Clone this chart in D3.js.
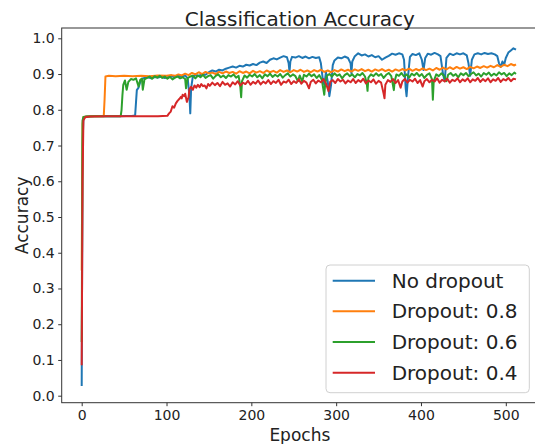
<!DOCTYPE html>
<html lang="en">
<head>
  <meta charset="utf-8" />
  <script src="https://d3js.org/d3.v7.min.js"></script>
  <style>
    body { margin: 0; background: #fff; }
    text { font-family: "DejaVu Sans", sans-serif; fill: #222; }
  </style>
</head>
<body>
  <script>
    // series: [epoch, accuracy]
    var noDropout = [
      [0, .027], [1, .70], [2, .775], [5, .781], [15, .782], [30, .782], [45, .782], [60, .783], [63, .784],
      [64, .82], [65, .855], [67, .862], [69, .878], [71, .887], [74, .889], [78, .891], [82, .888], [86, .892],
      [90, .890], [94, .893], [98, .889], [102, .892], [106, .894], [110, .891], [114, .895], [118, .893],
      [122, .896], [125, .887], [127, .84], [128, .79], [129, .86], [131, .893], [134, .897], [138, .895],
      [142, .90], [146, .898], [150, .905], [154, .910], [158, .907], [162, .912], [166, .910], [170, .915],
      [174, .918], [178, .921], [182, .918], [186, .923], [190, .921], [194, .926], [198, .924], [202, .928],
      [206, .925], [210, .932], [214, .935], [218, .931], [222, .940], [226, .944], [230, .941], [234, .946],
      [238, .950], [242, .947], [244, .93], [245, .906], [246, .935], [248, .948], [252, .946], [256, .950],
      [260, .945], [264, .949], [268, .944], [272, .948], [276, .945], [280, .947], [282, .93], [284, .89],
      [286, .87], [288, .905], [290, .88], [292, .838], [294, .87], [296, .925], [298, .938], [302, .946],
      [306, .944], [310, .949], [314, .945], [317, .93], [318, .902], [319, .935], [322, .950], [326, .958],
      [330, .952], [334, .955], [338, .949], [342, .953], [346, .947], [350, .950], [354, .940], [358, .946],
      [362, .951], [366, .957], [370, .954], [374, .958], [378, .955], [380, .94], [382, .86], [383, .838],
      [385, .90], [387, .948], [390, .956], [394, .953], [398, .958], [401, .94], [403, .911], [405, .945],
      [408, .957], [412, .954], [416, .959], [420, .955], [423, .95], [426, .90], [428, .88], [430, .945],
      [434, .957], [438, .953], [442, .958], [446, .955], [450, .958], [454, .952], [456, .93], [458, .895],
      [460, .94], [463, .955], [467, .958], [471, .955], [475, .959], [479, .956], [483, .958], [487, .955],
      [490, .95], [492, .93], [494, .92], [496, .935], [498, .925], [500, .945], [503, .96], [506, .966],
      [509, .972], [512, .968]
    ];

    var dropout08 = [
      [0, .35], [1, .76], [2, .78], [6, .781], [15, .782], [26, .782], [27, .83], [28, .893], [32, .895],
      [40, .894], [50, .895], [60, .894], [70, .895], [80, .894], [90, .896], [100, .895], [106, .897],
      [110, .895], [114, .899], [118, .896], [122, .901], [126, .897], [130, .903], [134, .899], [138, .905],
      [142, .900], [146, .906], [150, .902], [154, .904], [158, .900], [162, .906], [166, .902], [170, .907],
      [174, .903], [178, .906], [182, .901], [186, .908], [190, .903], [194, .907], [198, .902], [202, .909],
      [206, .904], [210, .908], [214, .903], [218, .910], [222, .905], [226, .909], [230, .904], [234, .911],
      [238, .906], [242, .910], [246, .905], [250, .911], [254, .907], [258, .912], [262, .906], [266, .910],
      [270, .905], [274, .911], [278, .907], [282, .912], [286, .906], [290, .910], [294, .905], [298, .911],
      [302, .907], [306, .913], [310, .908], [314, .912], [318, .907], [322, .913], [326, .909], [330, .914],
      [334, .908], [338, .912], [342, .907], [346, .913], [350, .909], [354, .914], [358, .908], [362, .912],
      [366, .907], [370, .913], [374, .909], [378, .914], [382, .910], [386, .915], [390, .909], [394, .914],
      [398, .910], [402, .916], [406, .911], [410, .915], [414, .910], [418, .917], [422, .912], [426, .918],
      [430, .913], [434, .919], [438, .914], [442, .920], [446, .915], [450, .919], [454, .914], [458, .920],
      [462, .916], [466, .921], [470, .917], [474, .922], [478, .918], [482, .923], [486, .919], [490, .925],
      [494, .920], [498, .926], [502, .922], [506, .928], [510, .924], [512, .927]
    ];

    var dropout06 = [
      [0, .15], [1, .77], [2, .78], [6, .781], [15, .782], [30, .782], [46, .782], [47, .80], [48, .84],
      [49, .87], [51, .882], [53, .856], [55, .878], [58, .886], [61, .884], [64, .888], [67, .865], [69, .884],
      [71, .887], [72, .856], [74, .885], [77, .889], [80, .893], [83, .887], [86, .894], [89, .890], [92, .895],
      [95, .889], [98, .893], [101, .887], [104, .892], [107, .885], [110, .890], [113, .893], [116, .888],
      [119, .891], [122, .886], [123, .86], [125, .889], [128, .893], [131, .895], [134, .888], [137, .896],
      [140, .891], [143, .898], [146, .889], [149, .894], [152, .897], [155, .887], [158, .895], [161, .899],
      [164, .891], [167, .896], [170, .889], [173, .897], [176, .893], [179, .899], [182, .890], [185, .895],
      [187, .865], [188, .835], [189, .88], [192, .896], [195, .890], [198, .898], [201, .893], [204, .900],
      [207, .891], [210, .897], [213, .888], [216, .899], [219, .894], [222, .901], [225, .892], [228, .898],
      [231, .893], [234, .900], [237, .890], [240, .897], [243, .902], [246, .893], [249, .899], [252, .894],
      [255, .88], [257, .896], [260, .879], [262, .898], [265, .893], [268, .901], [271, .894], [274, .899],
      [277, .889], [280, .897], [283, .885], [286, .842], [287, .87], [289, .895], [292, .900], [295, .893],
      [298, .902], [301, .895], [304, .899], [307, .888], [310, .897], [313, .902], [316, .894], [319, .899],
      [322, .891], [325, .900], [328, .896], [331, .903], [334, .893], [336, .875], [337, .853], [338, .89],
      [341, .899], [344, .894], [347, .902], [350, .895], [353, .900], [356, .889], [359, .898], [362, .903],
      [365, .894], [368, .855], [369, .88], [371, .899], [374, .895], [377, .903], [380, .893], [383, .899],
      [386, .890], [389, .901], [392, .896], [395, .903], [398, .894], [401, .900], [404, .889], [407, .898],
      [410, .902], [413, .885], [414, .828], [415, .88], [418, .899], [421, .894], [424, .902], [427, .895],
      [430, .88], [432, .898], [435, .903], [438, .895], [441, .900], [444, .891], [447, .902], [450, .897],
      [453, .903], [456, .894], [459, .900], [462, .905], [465, .896], [468, .901], [471, .893], [474, .903],
      [477, .898], [480, .904], [483, .895], [486, .901], [489, .896], [492, .905], [495, .899], [498, .903],
      [501, .894], [504, .902], [507, .897], [510, .904], [512, .900]
    ];

    var dropout04 = [
      [0, .085], [1, .60], [2, .77], [4, .779], [10, .781], [30, .782], [60, .782], [90, .782], [101, .783],
      [103, .79], [105, .795], [107, .81], [109, .806], [111, .818], [113, .825], [115, .83], [117, .836],
      [118, .832], [119, .842], [121, .838], [122, .845], [124, .822], [126, .835], [127, .858], [129, .864],
      [131, .856], [133, .868], [135, .862], [137, .870], [139, .863], [141, .872], [143, .866], [145, .868],
      [147, .86], [149, .872], [151, .867], [154, .876], [157, .869], [160, .875], [163, .866], [166, .878],
      [169, .870], [172, .874], [175, .865], [178, .877], [181, .871], [184, .880], [187, .868], [190, .876],
      [193, .872], [196, .881], [199, .870], [202, .878], [205, .873], [208, .882], [211, .871], [214, .879],
      [217, .874], [220, .883], [223, .872], [226, .880], [229, .875], [232, .884], [235, .870], [238, .879],
      [241, .876], [244, .884], [247, .872], [250, .880], [253, .875], [256, .885], [259, .873], [262, .881],
      [265, .876], [268, .860], [270, .878], [273, .884], [276, .874], [279, .882], [282, .877], [285, .886],
      [288, .873], [291, .852], [293, .878], [296, .883], [299, .875], [302, .886], [305, .879], [308, .884],
      [311, .874], [314, .882], [317, .877], [320, .886], [323, .875], [326, .883], [329, .878], [332, .887],
      [335, .874], [338, .882], [341, .877], [344, .885], [347, .873], [350, .881], [353, .876], [356, .845],
      [357, .832], [358, .87], [361, .883], [364, .878], [367, .886], [370, .875], [373, .883], [376, .862],
      [378, .879], [381, .886], [384, .876], [387, .884], [390, .879], [393, .887], [396, .875], [399, .883],
      [402, .865], [404, .880], [407, .886], [410, .877], [413, .884], [416, .879], [419, .888], [422, .876],
      [425, .884], [428, .879], [431, .887], [434, .876], [437, .884], [440, .880], [443, .888], [446, .877],
      [449, .885], [452, .880], [455, .888], [458, .877], [461, .885], [464, .881], [467, .889], [470, .878],
      [473, .886], [476, .880], [479, .888], [482, .877], [485, .885], [488, .881], [491, .889], [494, .878],
      [497, .886], [500, .882], [503, .889], [506, .880], [509, .887], [512, .885]
    ];

    var seriesNames = ["No dropout", "Dropout: 0.8", "Dropout: 0.6", "Dropout: 0.4"];
    var seriesData = [noDropout, dropout08, dropout06, dropout04];
    var colors = ["#1f77b4", "#ff7f0e", "#2ca02c", "#d62728"];
    var xTicks = [0, 100, 200, 300, 400, 500];
    var yTicks = [0, 0.1, 0.2, 0.3, 0.4, 0.5, 0.6, 0.7, 0.8, 0.9, 1.0];

    var width = 535, height = 444;
    var svg = d3.select("body").append("svg")
      .attr("width", width)
      .attr("height", height);

    // axes box (runs a little past the right edge, like the original)
    var boxLeft = 61.7, boxRight = 538, boxTop = 28, boxBottom = 402.7;

    var x = d3.scaleLinear().domain([0, 500]).range([81.7, 505.8]);
    var y = d3.scaleLinear().domain([0, 1]).range([395.7, 38.3]);

    svg.append("clipPath").attr("id", "plotClip")
      .append("rect")
      .attr("x", boxLeft).attr("y", boxTop)
      .attr("width", boxRight - boxLeft).attr("height", boxBottom - boxTop);

    var line = d3.line()
      .x(function (d) { return x(d[0]); })
      .y(function (d) { return y(d[1]); });

    var linesG = svg.append("g").attr("clip-path", "url(#plotClip)");
    seriesData.forEach(function (s, i) {
      linesG.append("path")
        .datum(s)
        .attr("d", line)
        .attr("fill", "none")
        .attr("stroke", colors[i])
        .attr("stroke-width", 2)
        .attr("stroke-linejoin", "round");
    });

    // spines
    svg.append("rect")
      .attr("x", boxLeft).attr("y", boxTop)
      .attr("width", boxRight - boxLeft).attr("height", boxBottom - boxTop)
      .attr("fill", "none")
      .attr("stroke", "#333")
      .attr("stroke-width", 1);

    var xAxis = svg.append("g")
      .attr("transform", "translate(0," + boxBottom + ")")
      .call(d3.axisBottom(x).tickValues(xTicks).tickSize(3.5).tickPadding(3.5).tickFormat(d3.format("d")));
    var yAxis = svg.append("g")
      .attr("transform", "translate(" + boxLeft + ",0)")
      .call(d3.axisLeft(y).tickValues(yTicks).tickSize(3.5).tickPadding(3.5).tickFormat(d3.format(".1f")));

    [xAxis, yAxis].forEach(function (g) {
      g.select(".domain").remove();
      g.attr("font-size", 14).attr("font-family", "DejaVu Sans");
      g.selectAll(".tick line").attr("stroke", "#333");
      g.selectAll(".tick text").style("fill", "#222");
    });

    var midX = (boxLeft + boxRight) / 2;
    svg.append("text")
      .attr("x", midX).attr("y", 26)
      .attr("text-anchor", "middle")
      .attr("font-size", 20)
      .text("Classification Accuracy");

    svg.append("text")
      .attr("x", midX).attr("y", 440.5)
      .attr("text-anchor", "middle")
      .attr("font-size", 17)
      .text("Epochs");

    svg.append("text")
      .attr("transform", "translate(28," + ((boxTop + boxBottom) / 2) + ") rotate(-90)")
      .attr("text-anchor", "middle")
      .attr("font-size", 17)
      .text("Accuracy");

    // legend
    var legend = svg.append("g");
    legend.append("rect")
      .attr("x", 326).attr("y", 265)
      .attr("width", 203.3).attr("height", 127.7)
      .attr("rx", 4)
      .attr("fill", "#fff")
      .attr("fill-opacity", 0.8)
      .attr("stroke", "#d0d0d0");

    var rowY = d3.scalePoint().domain(seriesNames).range([280.7, 372.7]);
    seriesNames.forEach(function (name, i) {
      legend.append("line")
        .attr("x1", 332.7).attr("x2", 375)
        .attr("y1", rowY(name)).attr("y2", rowY(name))
        .attr("stroke", colors[i])
        .attr("stroke-width", 2);
      legend.append("text")
        .attr("x", 391.7).attr("y", rowY(name))
        .attr("dy", "0.35em")
        .attr("font-size", 20)
        .text(name);
    });
  </script>
</body>
</html>
